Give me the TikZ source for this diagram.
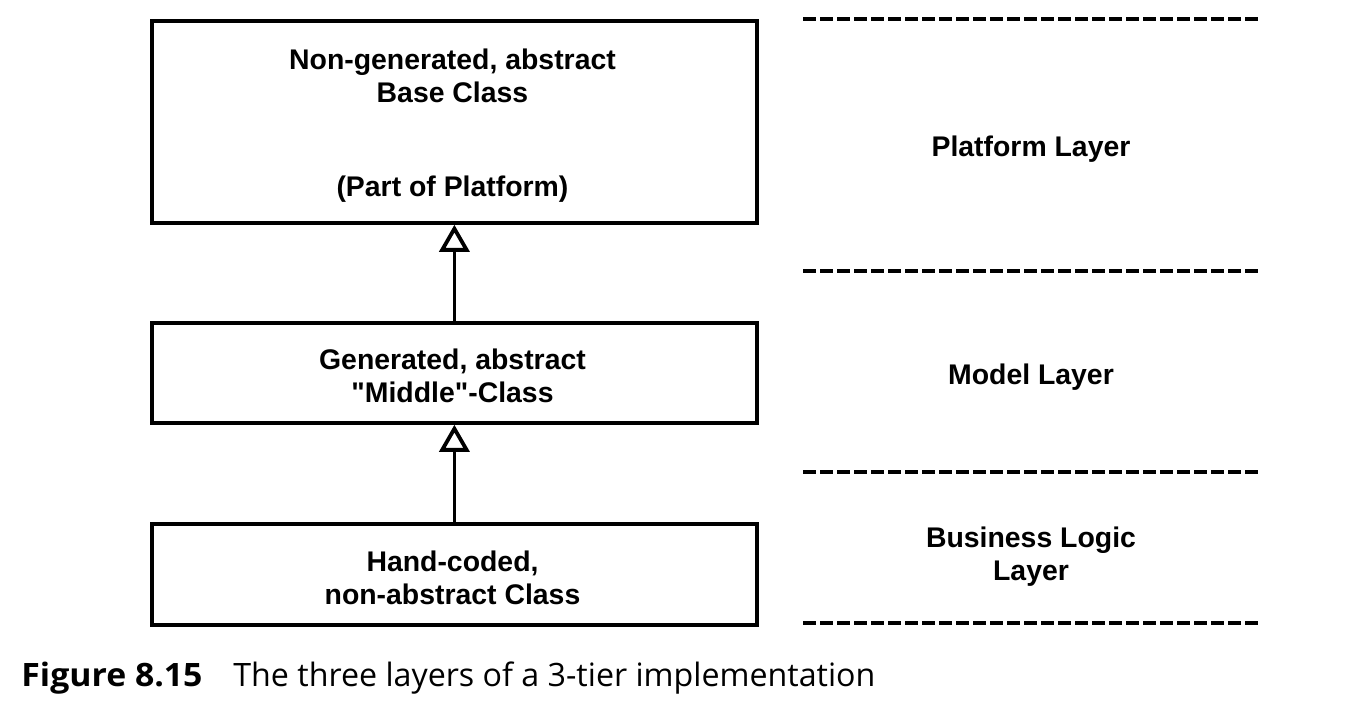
\documentclass[tikz,border=0pt]{standalone}
\usepackage{fontspec}
\setmainfont{Liberation Sans}
\newfontfamily\capfont{Open Sans}
\newfontfamily\capbold[FakeStretch=1.05]{Open Sans Bold}
\usetikzlibrary{arrows.meta}
\newcommand{\straightquote}{\XeTeXglyph\XeTeXcharglyph"22\relax}
\begin{document}
\begin{tikzpicture}[x=0.5pt,y=-0.5pt,
  box/.style={draw, line width=1.9pt, minimum width=302.5pt, inner sep=0pt, anchor=north west},
  txt/.style={font=\fontsize{14.2}{16.5}\selectfont\bfseries, align=center, inner sep=0pt},
  layer/.style={line width=2pt, dash pattern=on 6.5pt off 2pt},
  inherit/.style={line width=1.9pt, -{Triangle[open, length=13.5pt, width=15pt]}},
  caption/.style={font=\fontsize{16.1}{18}\selectfont, inner sep=0pt, anchor=base west}]
\useasboundingbox[fill=white] (0,0) rectangle (1372,704);
% boxes
\node[box, minimum height=101pt] (base) at (150,19) {};
\node[box, minimum height=50pt] (middle) at (150,321) {};
\node[box, minimum height=50.5pt] (hand) at (150,522) {};
% texts
\node[txt] (t1) at (452.5,76) {Non-generated, abstract\\Base Class};
\node[txt] (t2) at (452.5,189) {(Part of Platform)};
\node[txt] (t3) at (452.5,376) {Generated, abstract\\\straightquote Middle\straightquote-Class};
\node[txt] (t4) at (452.5,578) {Hand-coded,\\non-abstract Class};
% layer labels
\node[txt] (l1) at (1031,149) {Platform Layer};
\node[txt] (l2) at (1031,377) {Model Layer};
\node[txt] (l3) at (1031,557) {Business Logic\\Layer};
% dashed separators
\coordinate (d1a) at (803,19);  \coordinate (d1b) at (1258,19);
\coordinate (d2a) at (803,271); \coordinate (d2b) at (1258,271);
\coordinate (d3a) at (803,472); \coordinate (d3b) at (1258,472);
\coordinate (d4a) at (803,623); \coordinate (d4b) at (1258,623);
\draw[layer] (d1a) -- (d1b);
\draw[layer] (d2a) -- (d2b);
\draw[layer] (d3a) -- (d3b);
\draw[layer] (d4a) -- (d4b);
% inheritance arrows
\draw[inherit] (middle.north) -- (base.south);
\draw[inherit] (hand.north) -- (middle.south);
% caption
\node[caption] (c1) at (21,687) {\capbold Figure 8.15};
\node[caption] (c2) at (233,687) {\capfont The three layers of a 3-tier implementation};
\end{tikzpicture}
\end{document}
